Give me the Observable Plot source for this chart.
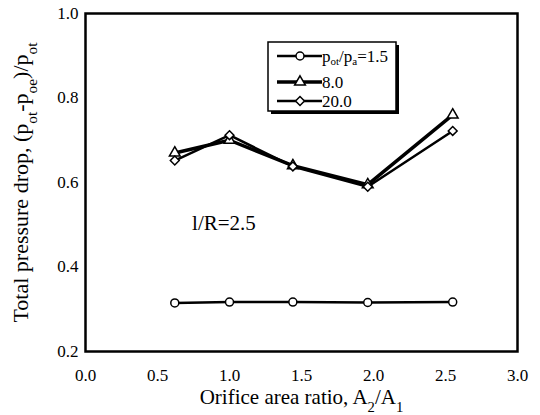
<!DOCTYPE html>
<html><head><meta charset="utf-8">
<script src="https://cdn.jsdelivr.net/npm/d3@7"></script>
<script src="https://cdn.jsdelivr.net/npm/@observablehq/plot@0.6"></script>
<style>
body{margin:0;background:#fff;}
#chart{position:relative;width:540px;height:415px;}
#chart svg, #chart svg text{font-family:"Liberation Serif","Times New Roman",serif !important;}
</style></head><body><div id="chart"></div>
<script>
// Data
const areaRatio = [0.62, 1.0, 1.44, 1.96, 2.55];
const drop15 = [0.315, 0.317, 0.317, 0.316, 0.317];
const drop8  = [0.670, 0.700, 0.640, 0.595, 0.760];
const drop20 = [0.652, 0.712, 0.638, 0.590, 0.722];
const seriesNames = ["1.5", "8.0", "20.0"];
const xTicks = [0, 0.5, 1.0, 1.5, 2.0, 2.5, 3.0];
const yTicks = [0.2, 0.4, 0.6, 0.8, 1.0];
const annotation = [{x: 0.74, y: 0.503, text: "l/R=2.5"}];

const seriesValues = [drop15, drop8, drop20];
const rows = [];
seriesNames.forEach((s, i) => areaRatio.forEach((x, j) => rows.push({series: s, x, y: seriesValues[i][j]})));

const symbols = {"1.5": "circle", "8.0": "triangle", "20.0": "diamond2"};
const widths = {"1.5": 2.5, "8.0": 3.5, "20.0": 2.5};
const fmt = d3.format(".1f");

const plot = Plot.plot({
  width: 540, height: 415,
  marginTop: 13, marginRight: 23, marginBottom: 64, marginLeft: 85,
  style: {fontFamily: "Liberation Serif, serif", fontSize: "17px", color: "#000", background: "#fff"},
  x: {domain: [0, 3]},
  y: {domain: [0.2, 1.0]},
  marks: [
    Plot.axisX({ticks: xTicks, tickFormat: fmt, tickSize: 0, tickPadding: 17, fontSize: 17, label: "Orifice area ratio", labelAnchor: "center", labelOffset: 52, labelArrow: "none"}),
    Plot.axisY({ticks: yTicks, tickFormat: fmt, tickSize: 0, tickPadding: 7, fontSize: 17, label: "Total pressure drop", labelAnchor: "center", labelOffset: 73, labelArrow: "none"}),
    ...seriesNames.map(s => Plot.line(rows.filter(d => d.series === s), {x: "x", y: "y", stroke: "#000", strokeWidth: widths[s]})),
    ...seriesNames.map(s => Plot.dot(rows.filter(d => d.series === s), {x: "x", y: "y", symbol: symbols[s], r: 4, fill: "#fff", stroke: "#000", strokeWidth: 1.5})),
    Plot.text(annotation, {x: "x", y: "y", text: "text", fontSize: 21, textAnchor: "start"}),
    Plot.frame({stroke: "#000", strokeWidth: 2.5})
  ]
});
document.getElementById("chart").appendChild(plot);

const svg = d3.select(plot);
function setRich(sel, parts, size) {
  const t = sel.select("text");
  t.text(null).style("font-size", size + "px");
  parts.forEach(([str, sub]) => {
    const ts = t.append("tspan").text(str);
    if (sub) ts.attr("baseline-shift", "sub").style("font-size", (size * 0.7) + "px");
  });
}
setRich(svg.select('g[aria-label="x-axis label"]'), [["Orifice area ratio, A"], ["2", 1], ["/A"], ["1", 1]], 21);
setRich(svg.select('g[aria-label="y-axis label"]'), [["Total pressure drop, (p"], ["ot", 1], ["-p"], ["oe", 1], [")/p"], ["ot", 1]], 22);

// Legend
const leg = svg.append("g");
leg.append("rect").attr("x", 271).attr("y", 45).attr("width", 128).attr("height", 69).attr("fill", "#000");
leg.append("rect").attr("x", 268).attr("y", 42).attr("width", 128).attr("height", 69).attr("fill", "#fff").attr("stroke", "#000").attr("stroke-width", 1.5);
const legRows = [56, 82, 101];
const legLabels = [[["p"], ["ot", 1], ["/p"], ["a", 1], ["=1.5"]], [["8.0"]], [["20.0"]]];
const d3sym = {circle: d3.symbolCircle, triangle: d3.symbolTriangle, diamond2: d3.symbolDiamond2};
seriesNames.forEach((s, i) => {
  const y = legRows[i];
  leg.append("line").attr("x1", 277).attr("x2", 322).attr("y1", y).attr("y2", y).attr("stroke", "#000").attr("stroke-width", widths[s]);
  leg.append("path").attr("d", d3.symbol(d3sym[symbols[s]], Math.PI * 16)()).attr("transform", `translate(300,${y})`).attr("fill", "#fff").attr("stroke", "#000").attr("stroke-width", 1.5);
  const t = leg.append("text").attr("x", 322).attr("y", y).attr("dy", "0.35em").attr("text-anchor", "start").style("font-size", "17px");
  legLabels[i].forEach(([str, sub]) => {
    const ts = t.append("tspan").text(str);
    if (sub) ts.attr("baseline-shift", "-3px").style("font-size", "11px");
  });
});
</script></body></html>
